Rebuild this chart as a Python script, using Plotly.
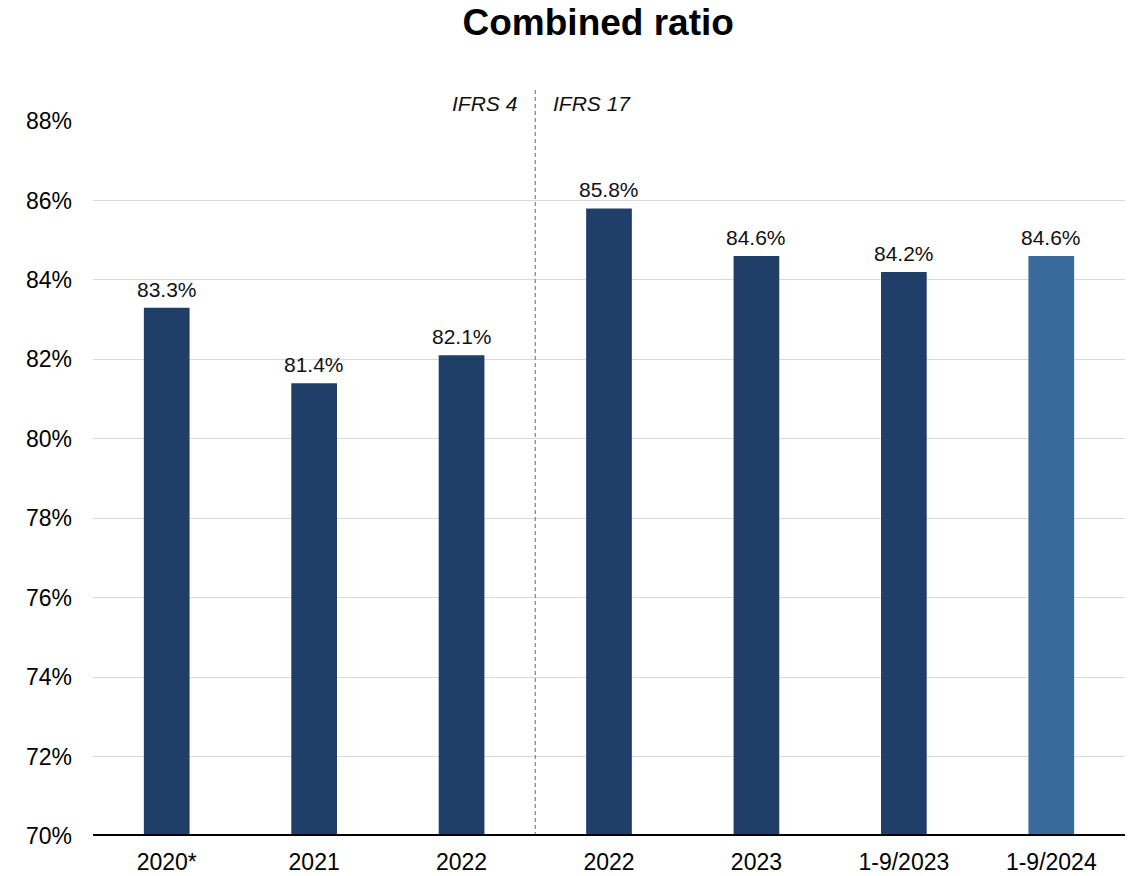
import plotly.graph_objects as go

categories = ["2020*", "2021", "2022", "2022", "2023", "1-9/2023", "1-9/2024"]
combined_ratio = [83.3, 81.4, 82.1, 85.8, 84.6, 84.2, 84.6]
bar_colors = ["#1F3F68"] * 6 + ["#386B9C"]
y_ticks = [70, 72, 74, 76, 78, 80, 82, 84, 86, 88]

positions = list(range(len(categories)))
FONT = "Liberation Sans, Arial"

fig = go.Figure()
fig.add_trace(go.Bar(
    x=positions,
    y=combined_ratio,
    marker=dict(color=bar_colors, line=dict(width=0)),
    width=0.31,
    hoverinfo="skip",
))

# value labels above each bar
for x, v in zip(positions, combined_ratio):
    fig.add_annotation(x=x, y=v, xref="x", yref="y", text=f"{v:.1f}%",
                       showarrow=False, yanchor="bottom", yshift=5,
                       font=dict(family=FONT, size=21, color="#111111"))

# IFRS 4 / IFRS 17 divider
fig.add_shape(type="line", xref="x", yref="paper", x0=2.5, x1=2.5, y0=0, y1=1.045,
              line=dict(color="#808080", width=1.2, dash="4px,3px"))
fig.add_annotation(x=2.5, y=1.025, xref="x", yref="paper", text="<i>IFRS 4</i>",
                   showarrow=False, xanchor="right", yanchor="middle", xshift=-16,
                   font=dict(family=FONT, size=21, color="#111111"))
fig.add_annotation(x=2.5, y=1.025, xref="x", yref="paper", text="<i>IFRS 17</i>",
                   showarrow=False, xanchor="left", yanchor="middle", xshift=16,
                   font=dict(family=FONT, size=21, color="#111111"))

fig.update_layout(
    width=1133, height=876,
    margin=dict(l=93, r=8, t=121, b=40),
    paper_bgcolor="white", plot_bgcolor="white",
    title=dict(text="<b>Combined ratio</b>", x=0.528, xanchor="center", y=0.975, yanchor="middle",
               font=dict(family=FONT, size=37, color="black")),
    showlegend=False,
)
fig.update_xaxes(
    tickmode="array", tickvals=positions, ticktext=categories,
    range=[-0.5, len(categories) - 0.5],
    showgrid=False, zeroline=False,
    showline=False, ticks="",
    tickfont=dict(family=FONT, size=23, color="black"),
    ticklabelstandoff=10,
    automargin=False,
)
fig.update_yaxes(
    range=[70, 88], tickvals=y_ticks, ticktext=[f"{t}%" for t in y_ticks],
    showgrid=True, gridcolor="#d9d9d9", gridwidth=1,
    zeroline=False, showline=False, ticks="",
    tickfont=dict(family=FONT, size=23, color="black"),
    ticklabelstandoff=20,
    automargin=False,
)
# baseline at 70%
fig.add_shape(type="line", xref="paper", yref="y", x0=0, x1=1, y0=70, y1=70,
              line=dict(color="black", width=4))

fig.write_html("out.html")
